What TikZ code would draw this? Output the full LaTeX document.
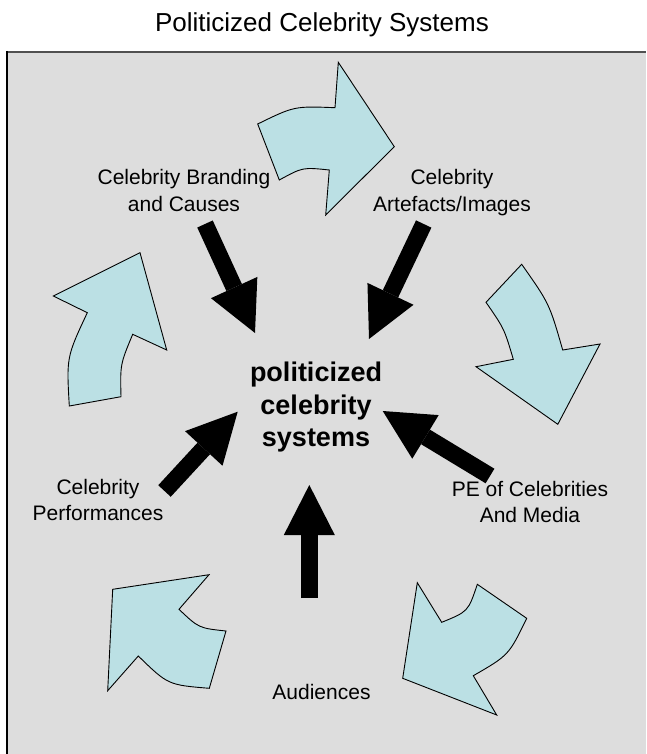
\documentclass[tikz,border=0pt]{standalone}
\usepackage{fontspec}
\setmainfont{Liberation Sans}
\usetikzlibrary{arrows.meta}

\definecolor{panel}{RGB}{221,221,221}
\definecolor{cyclefill}{RGB}{187,224,228}
\definecolor{rim}{RGB}{80,80,80}

\tikzset{
  cyclearrow/.style={fill=cyclefill, draw=black, line width=0.9pt, line join=miter},
  push/.style={draw=black, line width=17pt,
    -{Triangle[length=50pt,width=51pt,line width=0pt]}},
  lbl/.style={font=\fontsize{21}{26}\selectfont, align=center, inner sep=0pt},
}

\begin{document}
\begin{tikzpicture}[x=1pt,y=-1pt]
\useasboundingbox (0,0) rectangle (646,754);

% title above the panel
\node[font=\fontsize{26}{31}\selectfont, anchor=base, inner sep=0pt] (title) at (322,32) {Politicized Celebrity Systems};

% grey panel with its darker top and left rims
\fill[panel] (7,52) rectangle (646,754);
\draw[rim, line width=2pt] (7,52) -- (646,52);
\draw[black, line width=1.5pt] (7,51) -- (7,754);

% ring of curved cycle arrows, running clockwise
\filldraw[cyclearrow] (257.7,124) .. controls (294.3,106.1) .. (335,107.7) -- (338.3,62.3)
  -- (394.3,146.7) -- (325.7,215) -- (329.3,170) .. controls (302.7,167.2) .. (279.3,180) -- cycle;
\filldraw[cyclearrow] (486,302.3) -- (521.7,264.3) .. controls (549.4,303.7) .. (562.7,350)
  -- (600,344) -- (557.8,424.3) -- (476,366.7) -- (513.3,359.3) .. controls (504.2,328.6) .. (486,302.3) -- cycle;
\filldraw[cyclearrow] (417.3,582.7) -- (441.7,622.3) .. controls (468.2,611.5) .. (477.3,584.3)
  -- (526.7,618.3) .. controls (508.8,655.2) .. (473.3,675.7) -- (496.7,715) -- (402.7,678.3) -- cycle;
\filldraw[cyclearrow] (112.7,589.3) -- (209,574.7) -- (179,609.3) .. controls (198.8,628.1) .. (226,631)
  -- (209.3,688.3) .. controls (168,684.9) .. (138.3,656) -- (107.7,690.7) -- cycle;
\filldraw[cyclearrow] (140,252.7) -- (166.7,350) -- (132.7,334.3) .. controls (120.2,364.3) .. (121,396.7)
  -- (69.3,406) .. controls (66.5,357.1) .. (87.3,312.7) -- (53.3,296) -- cycle;

% central concept (base anchor sits on the last line)
\node[font=\bfseries\fontsize{27}{32.5}\selectfont, align=center, inner sep=0pt, anchor=base]
  (core) at (316,446.7) {politicized\\celebrity\\systems};

% surrounding labels (base anchor sits on the last line)
\node[lbl, anchor=base] (brand) at (184,211) {Celebrity Branding\\and Causes};
\node[lbl, anchor=base] (artef) at (452,211) {Celebrity\\Artefacts/Images};
\node[lbl, anchor=base] (pe)    at (530,522) {PE of Celebrities\\And Media};
\node[lbl, anchor=base] (perf)  at (98,520)  {Celebrity\\Performances};
\node[lbl, anchor=base] (aud)   at (321.5,699) {Audiences};

% ends of the inward arrows
\coordinate (brandTail) at (205,224);   \coordinate (brandTip) at (255,333);
\coordinate (artefTail) at (423.7,224); \coordinate (artefTip) at (369,339);
\coordinate (perfTail)  at (164.5,491); \coordinate (perfTip)  at (237.7,411.7);
\coordinate (audTail)   at (309.3,598); \coordinate (audTip)   at (309.3,485);
\coordinate (peTail)    at (490,476);   \coordinate (peTip)    at (382.7,411);

% heavy arrows pointing at the centre
\draw[push] (brandTail) -- (brandTip);
\draw[push] (artefTail) -- (artefTip);
\draw[push] (perfTail)  -- (perfTip);
\draw[push] (audTail)   -- (audTip);
\draw[push] (peTail)    -- (peTip);
\end{tikzpicture}
\end{document}
